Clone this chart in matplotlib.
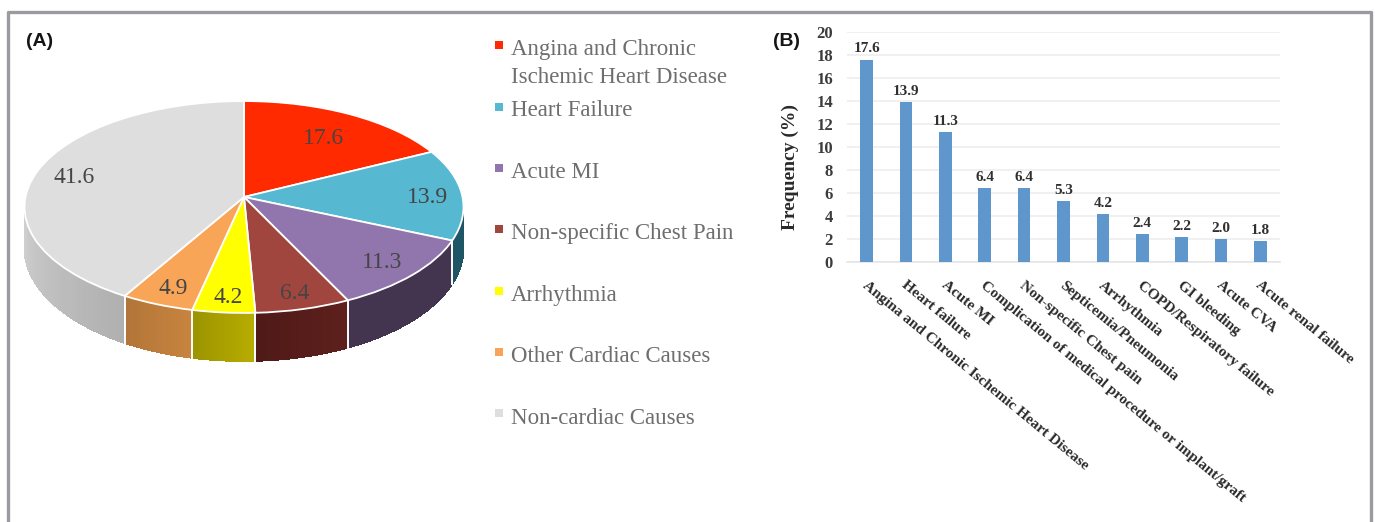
import numpy as np
import matplotlib
matplotlib.use("Agg")
import matplotlib.pyplot as plt
from matplotlib import transforms as mtrans
from matplotlib.colors import to_rgb

# ---------- data ----------
pie_labels = ["Angina and Chronic\nIschemic Heart Disease", "Heart Failure", "Acute MI",
              "Non-specific Chest Pain", "Arrhythmia", "Other Cardiac Causes", "Non-cardiac Causes"]
pie_values = [17.6, 13.9, 11.3, 6.4, 4.2, 4.9, 41.6]
pie_colors = ["#ff2a00", "#57b8d2", "#9176ad", "#a0463e", "#ffff00", "#f9a557", "#dedede"]
wall_start = ["#a02000", "#1f5666", "#43344f", "#5e201c", "#b8ad00", "#c8843f", "#b0b0b0"]
wall_end = ["#a02000", "#1f5666", "#43344f", "#4f1a18", "#9c9400", "#b27538", "#cfcfcf"]
label_radius = [0.72, 0.835, 0.82, 0.85, 0.86, 0.84, 0.83]

bar_categories = ["Angina and Chronic Ischemic Heart Disease", "Heart failure", "Acute MI",
                  "Complication of medical procedure or implant/graft", "Non-specific Chest pain",
                  "Septicemia/Pneumonia", "Arrhythmia", "COPD/Respiratory failure", "GI bleeding",
                  "Acute CVA", "Acute renal failure"]
bar_values = [17.6, 13.9, 11.3, 6.4, 6.4, 5.3, 4.2, 2.4, 2.2, 2.0, 1.8]
y_ticks = list(range(0, 21, 2))

W, H = 1375, 522
SERIF = "Liberation Serif"
fig = plt.figure(figsize=(W / 100, H / 100), dpi=100, facecolor="white")
canvas = fig.add_axes([0, 0, 1, 1])

# ---------- tilted pie ----------
CX, CY, RX, RY, K = 244.0, 197.0, 218.5, 105.0, 0.0943


def project(u, v):
    s = 1 + K * v
    return CX + RX * u / s, CY - RY * v / s


class Tilt(mtrans.Transform):
    input_dims = output_dims = 2
    is_separable = False
    has_inverse = False

    def transform_non_affine(self, values):
        values = np.asarray(values, float)
        x, y = project(values[:, 0], values[:, 1])
        return np.column_stack([x, y])


wedges, _ = canvas.pie(pie_values, colors=pie_colors, startangle=90, counterclock=False,
                       wedgeprops=dict(edgecolor="white", linewidth=1.3))
canvas.set_aspect("auto")
canvas.set_xlim(0, W)
canvas.set_ylim(H, 0)
canvas.set_axis_off()
tilt = Tilt() + canvas.transData
for w in wedges:
    w.set_transform(tilt)
    w.set_zorder(5)


def depth(v):
    return 40 - 8 * v


TH_R, TH_L = 95.4, 264.6
cum = np.concatenate([[0], np.cumsum(pie_values)]) / sum(pie_values) * 360
for i in range(len(pie_values)):
    a, b = max(cum[i], TH_R), min(cum[i + 1], TH_L)
    if b <= a:
        continue
    th = np.linspace(a, b, 40)
    c0, c1 = np.array(to_rgb(wall_start[i])), np.array(to_rgb(wall_end[i]))
    for j in range(len(th) - 1):
        t = np.radians(th[j:j + 2])
        u, v = np.sin(t), np.cos(t)
        x, y = project(u, v)
        yb = y + depth(v)
        col = c0 + (c1 - c0) * j / (len(th) - 2)
        canvas.fill([x[0], x[1], x[1], x[0]], [y[0], y[1], yb[1], yb[0]],
                    facecolor=col, edgecolor=col, linewidth=0.7, zorder=2, antialiased=False)
    if cum[i] >= TH_R:
        t = np.radians(cum[i])
        x, y = project(np.sin(t), np.cos(t))
        canvas.plot([x, x], [y, y + depth(np.cos(t))], color="white", lw=1.4, zorder=3)

for i, (val, r) in enumerate(zip(pie_values, label_radius)):
    t = np.radians((cum[i] + cum[i + 1]) / 2)
    x, y = project(r * np.sin(t), r * np.cos(t))
    canvas.annotate(f"{val:.1f}", (x, y), xytext=(1, -2), textcoords="offset points", ha="center",
                    va="center", family=SERIF, fontsize=17, color="#454545", zorder=6)

# ---------- legend ----------
legend_marker_y = [45, 107, 168, 229, 291, 352, 413]
legend_text_y = [63.5, 111, 172, 234, 295, 357, 418]
for lab, col, my, ty in zip(pie_labels, pie_colors, legend_marker_y, legend_text_y):
    canvas.scatter([499.5], [my], marker="s", s=40, color=col, linewidths=0, zorder=6)
    canvas.text(511, ty, lab, ha="left", va="center", family=SERIF, fontsize=16.5,
                color="#6e6e6e", linespacing=1.4)

canvas.text(26, 41, "(A)", ha="left", va="center", family="Liberation Sans",
            fontweight="bold", fontsize=14, color="#151515")
canvas.text(773, 41, "(B)", ha="left", va="center", family="Liberation Sans",
            fontweight="bold", fontsize=14, color="#151515")

# frame
canvas.plot([8.5, 8.5, 1371, 1371], [H + 5, 11.5, 11.5, H + 5], color="#9b9b9f", lw=2.4, zorder=1)

# ---------- bar chart ----------
ax = fig.add_axes([847 / W, 1 - 262 / H, (1280 - 847) / W, (262 - 32) / H])
ax.patch.set_alpha(0)
x = np.arange(len(bar_values))
bars = ax.bar(x, bar_values, width=0.32, color="#5f96cc", zorder=3)
ax.set_xlim(-0.5, 10.5)
ax.set_ylim(0, 20)
ax.set_yticks(y_ticks)
ax.set_yticklabels([str(t) for t in y_ticks], family=SERIF, fontweight="bold",
                   fontsize=12, color="#3c3c3c", va="center_baseline")
ax.set_xticks(x)
ax.set_xticklabels(bar_categories, rotation=-39.5, ha="left", va="top", rotation_mode="anchor",
                   family=SERIF, fontweight="bold", fontsize=11, color="#2a2a2a")
ax.tick_params(axis="both", length=0)
ax.tick_params(axis="y", pad=10)
ax.tick_params(axis="x", pad=12)
shift = mtrans.ScaledTranslation(1.5 / 100, 0, fig.dpi_scale_trans)
for lbl in ax.get_xticklabels():
    lbl.set_transform(lbl.get_transform() + shift)
ax.grid(axis="y", color="#ededed", lw=1.2, zorder=0)
for s in ["top", "right", "left"]:
    ax.spines[s].set_visible(False)
ax.spines["bottom"].set_color("#e6e6e6")
ax.spines["bottom"].set_linewidth(1.2)
for xi, val in zip(x, bar_values):
    ax.annotate(f"{val:.1f}", (xi, val), xytext=(0, 3), textcoords="offset points", ha="center",
                va="bottom", family=SERIF, fontweight="bold", fontsize=11, color="#303030")
ax.set_ylabel("Frequency (%)", family=SERIF, fontweight="bold", fontsize=14, color="#2a2a2a")
ax.yaxis.set_label_coords((799 - 847) / (1280 - 847), (262 - 166.5) / (262 - 32))

fig.savefig("out.png", dpi=100, facecolor="white")
